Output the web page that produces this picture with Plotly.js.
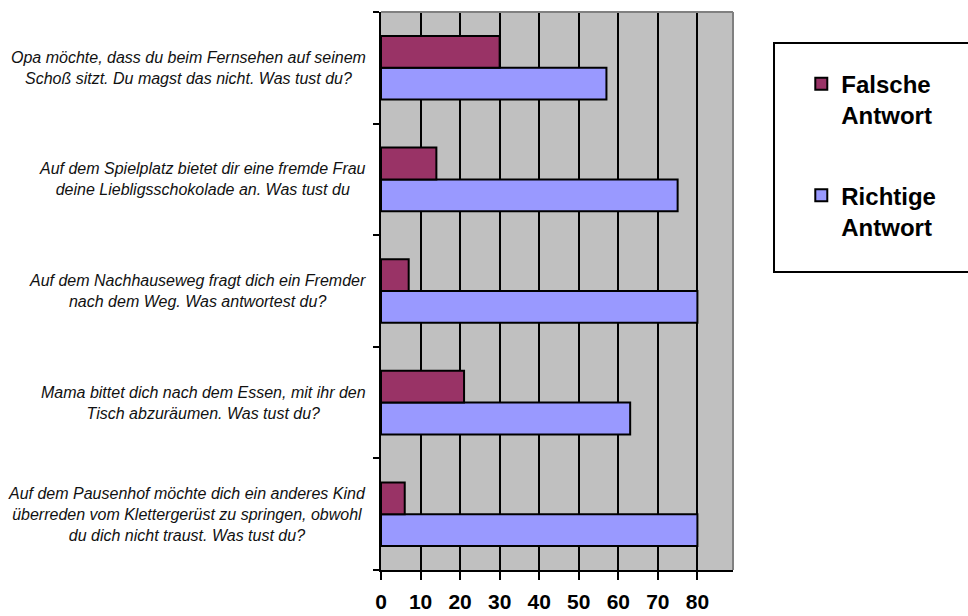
<!DOCTYPE html>
<html>
<head>
<meta charset="utf-8">
<script src="https://cdn.plot.ly/plotly-3.0.1.min.js"></script>
<style>
  html, body { margin: 0; padding: 0; background: #ffffff; }
  #chart { width: 968px; height: 616px; }
</style>
</head>
<body>
<div id="chart"></div>
<script>
// Situations (bottom to top on the category axis)
const situations = [
  "Auf dem Pausenhof möchte dich ein anderes Kind<br>überreden vom Klettergerüst zu springen, obwohl<br>du dich nicht traust. Was tust du?",
  "Mama bittet dich nach dem Essen, mit ihr den<br>Tisch abzuräumen. Was tust du?",
  "Auf dem Nachhauseweg fragt dich ein Fremder<br>nach dem Weg. Was antwortest du?",
  "Auf dem Spielplatz bietet dir eine fremde Frau<br>deine Liebligsschokolade an. Was tust du",
  "Opa möchte, dass du beim Fernsehen auf seinem<br>Schoß sitzt. Du magst das nicht. Was tust du?"
];

const falscheAntwort = [6, 21, 7, 14, 30];
const richtigeAntwort = [80, 63, 80, 75, 57];

const seriesNames = ["Falsche<br>Antwort", "Richtige<br>Antwort"];
const xTicks = [0, 10, 20, 30, 40, 50, 60, 70, 80];

const outline = { color: "#000000", width: 2 };

const traces = [
  {
    type: "bar",
    orientation: "h",
    name: seriesNames[1],
    y: situations,
    x: richtigeAntwort,
    marker: { color: "#9999FF", line: outline },
    legendrank: 2,
    legendgroup: "r",
    hoverinfo: "x"
  },
  {
    type: "bar",
    orientation: "h",
    name: seriesNames[0],
    y: situations,
    x: falscheAntwort,
    marker: { color: "#993366", line: outline },
    legendrank: 1,
    legendgroup: "f",
    hoverinfo: "x"
  }
];

// Category labels, centred text blocks to the left of the plot
const labelAnnotations = situations.map(s => ({
  xref: "paper",
  yref: "y",
  x: 0,
  y: s,
  xanchor: "right",
  yanchor: "middle",
  xshift: -13,
  align: "center",
  showarrow: false,
  text: "<i>" + s + "</i>",
  font: { family: "Liberation Sans, Arial, sans-serif", size: 16, color: "#111111" }
}));

const layout = {
  width: 968,
  height: 616,
  margin: { l: 381, r: 235, t: 12, b: 46, pad: 0 },
  paper_bgcolor: "#ffffff",
  plot_bgcolor: "#C0C0C0",
  barmode: "group",
  bargap: 0.43,
  bargroupgap: 0,
  showlegend: true,
  legend: {
    x: 1.194,
    y: 0.911,
    xanchor: "left",
    yanchor: "top",
    bgcolor: "rgba(0,0,0,0)",
    borderwidth: 0,
    traceorder: "grouped",
    tracegroupgap: 46,
    valign: "top",
    font: { family: "Liberation Sans, Arial, sans-serif", size: 24, color: "#000000", weight: "bold" }
  },
  xaxis: {
    range: [0, 89],
    tickmode: "array",
    tickvals: xTicks,
    ticktext: xTicks.map(String),
    ticks: "outside",
    ticklen: 8,
    tickwidth: 2,
    tickcolor: "#000000",
    ticklabelstandoff: 4,
    showline: true,
    linecolor: "#000000",
    linewidth: 2,
    showgrid: true,
    gridcolor: "#000000",
    gridwidth: 2,
    zeroline: false,
    tickfont: { family: "Liberation Sans, Arial, sans-serif", size: 21, color: "#000000", weight: "bold" },
    fixedrange: true
  },
  yaxis: {
    type: "category",
    categoryorder: "array",
    categoryarray: situations,
    tickson: "boundaries",
    ticks: "outside",
    ticklen: 6,
    tickwidth: 2,
    tickcolor: "#000000",
    showticklabels: false,
    showline: true,
    linecolor: "#000000",
    linewidth: 2,
    showgrid: false,
    zeroline: false,
    fixedrange: true
  },
  annotations: labelAnnotations,
  shapes: [
    // plot frame, top and right edges
    { type: "line", xref: "paper", yref: "paper", x0: 0, x1: 1, y0: 1, y1: 1, line: { color: "#808080", width: 2 } },
    { type: "line", xref: "paper", yref: "paper", x0: 1, x1: 1, y0: 0, y1: 1, line: { color: "#808080", width: 2 } },
    // legend frame
    { type: "rect", xref: "paper", yref: "paper", x0: 1.1165, x1: 1.70, y0: 0.534, y1: 0.9444, line: { color: "#000000", width: 2 }, fillcolor: "rgba(0,0,0,0)" }
  ]
};

Plotly.newPlot("chart", traces, layout, { displayModeBar: false, staticPlot: true });
</script>
</body>
</html>
